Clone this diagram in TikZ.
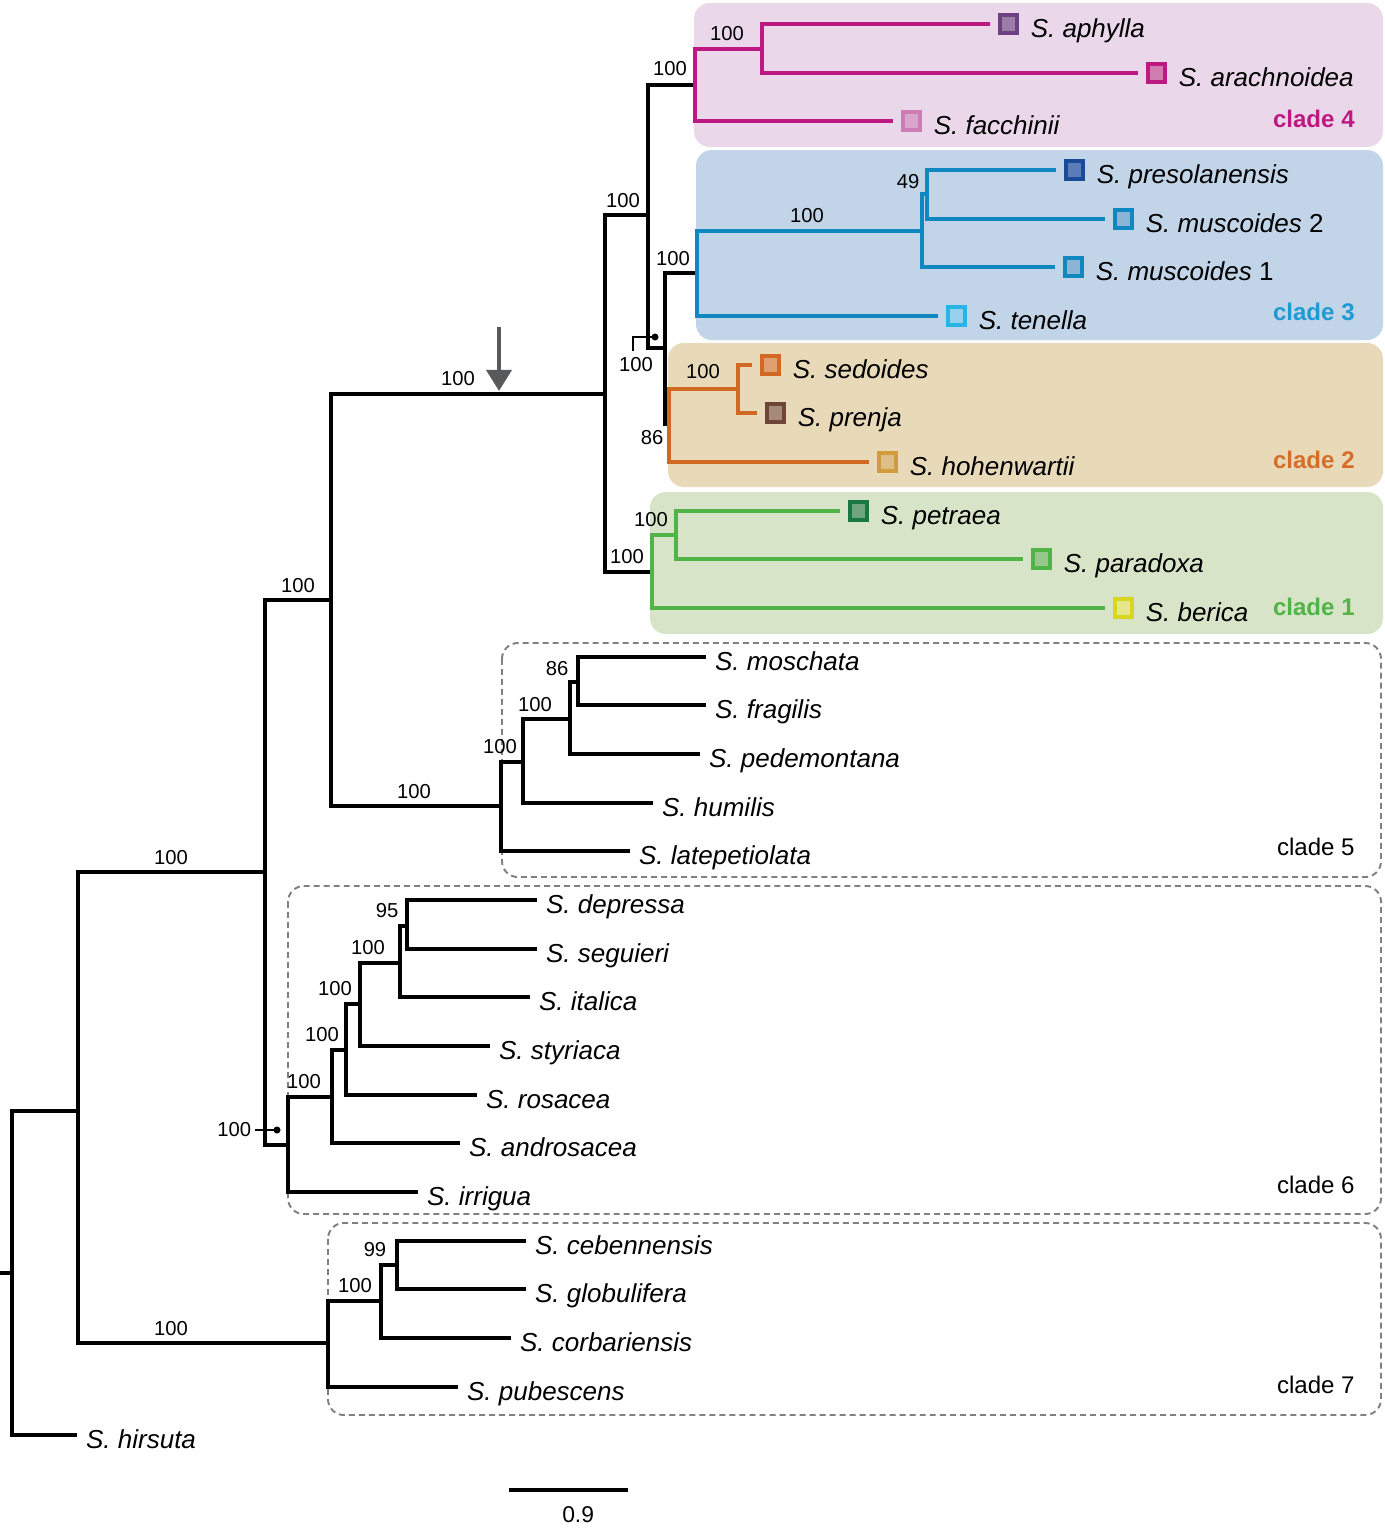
\documentclass[tikz,border=0pt]{standalone}
\usepackage{fontspec}
\setmainfont{Liberation Sans}
\usepackage{xcolor}
\usetikzlibrary{calc}
\usetikzlibrary{positioning,arrows.meta}

\definecolor{cfour}{RGB}{190,25,130}
\definecolor{cfourbg}{RGB}{234,216,234}
\definecolor{cthree}{RGB}{16,135,190}
\definecolor{cthreebg}{RGB}{194,212,232}
\definecolor{cthreelab}{RGB}{30,155,210}
\definecolor{ctwo}{RGB}{210,105,35}
\definecolor{ctwobg}{RGB}{232,217,185}
\definecolor{ctwolab}{RGB}{214,110,40}
\definecolor{cone}{RGB}{80,180,70}
\definecolor{conebg}{RGB}{216,228,200}
\definecolor{arrgrey}{RGB}{88,89,91}
\definecolor{boxgrey}{RGB}{128,128,128}
% square colours
\definecolor{aphyllaD}{RGB}{110,65,130}
\definecolor{aphyllaF}{RGB}{155,125,168}
\definecolor{arachF}{RGB}{207,125,175}
\definecolor{facchD}{RGB}{205,125,180}
\definecolor{facchF}{RGB}{218,165,205}
\definecolor{presolD}{RGB}{25,75,150}
\definecolor{presolF}{RGB}{90,125,185}
\definecolor{muscF}{RGB}{140,180,215}
\definecolor{tenellaD}{RGB}{40,180,230}
\definecolor{tenellaF}{RGB}{150,210,238}
\definecolor{sedoF}{RGB}{222,160,115}
\definecolor{prenjaD}{RGB}{110,70,55}
\definecolor{prenjaF}{RGB}{165,138,122}
\definecolor{hohenD}{RGB}{210,155,60}
\definecolor{hohenF}{RGB}{222,190,135}
\definecolor{petraeaD}{RGB}{25,120,65}
\definecolor{petraeaF}{RGB}{110,165,125}
\definecolor{paradoxaF}{RGB}{150,200,140}
\definecolor{bericaD}{RGB}{215,215,30}
\definecolor{bericaF}{RGB}{230,230,140}

\tikzset{
  br/.style={line width=1.8pt, line join=miter},
  cbr/.style={line width=2.3pt, line join=miter},
  boot/.style={inner sep=0pt, font=\fontsize{11.5}{13}\selectfont},
  leaf/.style={inner sep=0pt, anchor=base west, yshift=-7.4pt, font=\fontsize{14.8}{17}\selectfont\itshape},
  sq/.style 2 args={draw=#1, fill=#2, line width=2.2pt, minimum size=10pt, inner sep=0pt},
  cladebg/.style={fill=#1, rounded corners=9pt},
  cladebox/.style={draw=boxgrey, dash pattern=on 3.4pt off 2.3pt, line width=1.1pt, rounded corners=9pt},
  cladelab/.style={inner sep=0pt, anchor=base east, font=\fontsize{13.7}{16}\selectfont},
  callout/.style={line width=0.7pt},
  pointer/.style={line width=2.8pt, draw=arrgrey, -{Triangle[width=14pt,length=12pt]}},
}

\begin{document}
\begin{tikzpicture}[x=0.02cm, y=-0.02cm]
\useasboundingbox (0,0) rectangle (1384,1529);

%CLADE BACKGROUNDS
\fill[cladebg=cfourbg] (694,3) rectangle (1383,147);
\fill[cladebg=cthreebg] (696,150) rectangle (1383,340);
\fill[cladebg=ctwobg] (668,343) rectangle (1383,487);
\fill[cladebg=conebg] (650,492) rectangle (1383,634);
\draw[cladebox] (502,643) rectangle (1381,877);
\draw[cladebox] (288,886) rectangle (1381,1214);
\draw[cladebox] (328,1223) rectangle (1381,1415);

%INTERNAL NODES
\coordinate (rootin) at (0,1273);
\coordinate (r) at (12,1273);
\coordinate (nA) at (78,1111);
\coordinate (nB) at (265,872);
\coordinate (nC) at (331,600);
\coordinate (nD) at (605,394);
\coordinate (nE) at (648,215);
\coordinate (nF) at (665,348);
\coordinate (c4) at (695,85);
\coordinate (c4a) at (762,49);
\coordinate (c3) at (697,273);
\coordinate (c3a) at (922,231);
\coordinate (c3b) at (927,194);
\coordinate (c2) at (669,424);
\coordinate (c2a) at (738,389);
\coordinate (c1) at (652,572);
\coordinate (c1a) at (676,535);
\coordinate (c5) at (501,806);
\coordinate (c5a) at (523,762);
\coordinate (c5b) at (570,719);
\coordinate (c5c) at (578,682);
\coordinate (c6) at (288,1145);
\coordinate (c6a) at (332,1097);
\coordinate (c6b) at (346,1050);
\coordinate (c6c) at (360,1004);
\coordinate (c6d) at (400,963);
\coordinate (c6e) at (407,926);
\coordinate (c7) at (328,1343);
\coordinate (c7a) at (381,1301);
\coordinate (c7b) at (397,1265);

%TIPS
\coordinate (aphyllaT) at (990,24);
\coordinate (arachT) at (1138,73);
\coordinate (facchT) at (893,121);
\coordinate (presolT) at (1056,170);
\coordinate (muscbT) at (1105,219);
\coordinate (muscaT) at (1055,267);
\coordinate (tenellaT) at (938,316);
\coordinate (sedoT) at (752,365);
\coordinate (prenjaT) at (757,413);
\coordinate (hohenT) at (869,462);
\coordinate (petraeaT) at (840,511);
\coordinate (paradoxaT) at (1023,559);
\coordinate (bericaT) at (1105,608);
\coordinate (moschataT) at (706,657);
\coordinate (fragilisT) at (706,705);
\coordinate (pedemT) at (700,754);
\coordinate (humilisT) at (653,803);
\coordinate (latepT) at (630,851);
\coordinate (depressaT) at (537,900);
\coordinate (seguieriT) at (537,949);
\coordinate (italicaT) at (530,997);
\coordinate (styriacaT) at (490,1046);
\coordinate (rosaceaT) at (477,1095);
\coordinate (androsT) at (460,1143);
\coordinate (irriguaT) at (418,1192);
\coordinate (cebennT) at (526,1241);
\coordinate (globuT) at (526,1289);
\coordinate (corbarT) at (511,1338);
\coordinate (pubescT) at (458,1387);
\coordinate (hirsutaT) at (77,1435);

%BLACK BACKBONE
\draw[br] (rootin) -- (r);
\draw[br] (r) |- (hirsutaT);
\draw[br] (r) |- (nA);
\draw[br] (nA) |- (nB);
\draw[br] (nA) |- (c7);
\draw[br] (nB) |- (nC);
\draw[br] (nB) |- (c6);
\draw[br] (nC) |- (nD);
\draw[br] (nC) |- (c5);
\draw[br] (nD) |- (nE);
\draw[br] (nD) |- (c1);
\draw[br] (nE) |- (c4);
\draw[br] (nE) |- (nF);
\draw[br] (nF) |- (c3);
\draw[br] (nF) |- (c2);

%CLADE 4
\draw[cbr, cfour] (c4) |- (c4a);
\draw[cbr, cfour] (c4) |- (facchT);
\draw[cbr, cfour] (c4a) |- (aphyllaT);
\draw[cbr, cfour] (c4a) |- (arachT);
%CLADE 3
\draw[cbr, cthree] (c3) |- (c3a);
\draw[cbr, cthree] (c3) |- (tenellaT);
\draw[cbr, cthree] (c3a) |- (c3b);
\draw[cbr, cthree] (c3a) |- (muscaT);
\draw[cbr, cthree] (c3b) |- (presolT);
\draw[cbr, cthree] (c3b) |- (muscbT);
%CLADE 2
\draw[cbr, ctwo] (c2) |- (c2a);
\draw[cbr, ctwo] (c2) |- (hohenT);
\draw[cbr, ctwo] (c2a) |- (sedoT);
\draw[cbr, ctwo] (c2a) |- (prenjaT);
%CLADE 1
\draw[cbr, cone] (c1) |- (c1a);
\draw[cbr, cone] (c1) |- (bericaT);
\draw[cbr, cone] (c1a) |- (petraeaT);
\draw[cbr, cone] (c1a) |- (paradoxaT);
%CLADE 5
\draw[br] (c5) |- (c5a);
\draw[br] (c5) |- (latepT);
\draw[br] (c5a) |- (c5b);
\draw[br] (c5a) |- (humilisT);
\draw[br] (c5b) |- (c5c);
\draw[br] (c5b) |- (pedemT);
\draw[br] (c5c) |- (moschataT);
\draw[br] (c5c) |- (fragilisT);
%CLADE 6
\draw[br] (c6) |- (c6a);
\draw[br] (c6) |- (irriguaT);
\draw[br] (c6a) |- (c6b);
\draw[br] (c6a) |- (androsT);
\draw[br] (c6b) |- (c6c);
\draw[br] (c6b) |- (rosaceaT);
\draw[br] (c6c) |- (c6d);
\draw[br] (c6c) |- (styriacaT);
\draw[br] (c6d) |- (c6e);
\draw[br] (c6d) |- (italicaT);
\draw[br] (c6e) |- (depressaT);
\draw[br] (c6e) |- (seguieriT);
%CLADE 7
\draw[br] (c7) |- (c7a);
\draw[br] (c7) |- (pubescT);
\draw[br] (c7a) |- (c7b);
\draw[br] (c7a) |- (corbarT);
\draw[br] (c7b) |- (cebennT);
\draw[br] (c7b) |- (globuT);

%SQUARES
\node[sq={aphyllaD}{aphyllaF}, right=4.5pt of aphyllaT] (aphyllaS) {};
\node[sq={cfour}{arachF}, right=4.5pt of arachT] (arachS) {};
\node[sq={facchD}{facchF}, right=4.5pt of facchT] (facchS) {};
\node[sq={presolD}{presolF}, right=4.5pt of presolT] (presolS) {};
\node[sq={cthree}{muscF}, right=4.5pt of muscbT] (muscbS) {};
\node[sq={cthree}{muscF}, right=4.5pt of muscaT] (muscaS) {};
\node[sq={tenellaD}{tenellaF}, right=4.5pt of tenellaT] (tenellaS) {};
\node[sq={ctwo}{sedoF}, right=4.5pt of sedoT] (sedoS) {};
\node[sq={prenjaD}{prenjaF}, right=4.5pt of prenjaT] (prenjaS) {};
\node[sq={hohenD}{hohenF}, right=4.5pt of hohenT] (hohenS) {};
\node[sq={petraeaD}{petraeaF}, right=4.5pt of petraeaT] (petraeaS) {};
\node[sq={cone}{paradoxaF}, right=4.5pt of paradoxaT] (paradoxaS) {};
\node[sq={bericaD}{bericaF}, right=4.5pt of bericaT] (bericaS) {};

%SPECIES LABELS
\node[right=6.3pt of aphyllaS, leaf] (aphyllaL) {S. aphylla};
\node[right=6.3pt of arachS, leaf] (arachL) {S. arachnoidea};
\node[right=6.3pt of facchS, leaf] (facchL) {S. facchinii};
\node[right=6.3pt of presolS, leaf] (presolL) {S. presolanensis};
\node[right=6.3pt of muscbS, leaf] (muscbL) {S. muscoides \upshape 2};
\node[right=6.3pt of muscaS, leaf] (muscaL) {S. muscoides \upshape 1};
\node[right=6.3pt of tenellaS, leaf] (tenellaL) {S. tenella};
\node[right=6.3pt of sedoS, leaf] (sedoL) {S. sedoides};
\node[right=6.3pt of prenjaS, leaf] (prenjaL) {S. prenja};
\node[right=6.3pt of hohenS, leaf] (hohenL) {S. hohenwartii};
\node[right=6.3pt of petraeaS, leaf] (petraeaL) {S. petraea};
\node[right=6.3pt of paradoxaS, leaf] (paradoxaL) {S. paradoxa};
\node[right=6.3pt of bericaS, leaf] (bericaL) {S. berica};
\node[right=5pt of moschataT, leaf] (moschataL) {S. moschata};
\node[right=5pt of fragilisT, leaf] (fragilisL) {S. fragilis};
\node[right=5pt of pedemT, leaf] (pedemL) {S. pedemontana};
\node[right=5pt of humilisT, leaf] (humilisL) {S. humilis};
\node[right=5pt of latepT, leaf] (latepL) {S. latepetiolata};
\node[right=5pt of depressaT, leaf] (depressaL) {S. depressa};
\node[right=5pt of seguieriT, leaf] (seguieriL) {S. seguieri};
\node[right=5pt of italicaT, leaf] (italicaL) {S. italica};
\node[right=5pt of styriacaT, leaf] (styriacaL) {S. styriaca};
\node[right=5pt of rosaceaT, leaf] (rosaceaL) {S. rosacea};
\node[right=5pt of androsT, leaf] (androsL) {S. androsacea};
\node[right=5pt of irriguaT, leaf] (irriguaL) {S. irrigua};
\node[right=5pt of cebennT, leaf] (cebennL) {S. cebennensis};
\node[right=5pt of globuT, leaf] (globuL) {S. globulifera};
\node[right=5pt of corbarT, leaf] (corbarL) {S. corbariensis};
\node[right=5pt of pubescT, leaf] (pubescL) {S. pubescens};
\node[right=5pt of hirsutaT, leaf] (hirsutaL) {S. hirsuta};

%CLADE LABELS
\node[cladelab, cfour] (lab4) at (1355,127) {\bfseries clade 4};
\node[cladelab, cthreelab] (lab3) at (1355,320) {\bfseries clade 3};
\node[cladelab, ctwolab] (lab2) at (1355,468) {\bfseries clade 2};
\node[cladelab, cone] (lab1) at (1355,615) {\bfseries clade 1};
\node[cladelab] (lab5) at (1355,855) {clade 5};
\node[cladelab] (lab6) at (1355,1193) {clade 6};
\node[cladelab] (lab7) at (1355,1393) {clade 7};

%BOOTSTRAP VALUES
\node[boot] (bs1) at (727,34) {100};
\node[boot] (bs2) at (670,69) {100};
\node[boot] (bs3) at (623,201) {100};
\node[boot] (bs4) at (908,182) {49};
\node[boot] (bs5) at (807,216) {100};
\node[boot] (bs6) at (673,259) {100};
\node[boot] (bs7) at (703,372) {100};
\node[boot] (bs8) at (652,438) {86};
\node[boot] (bs9) at (651,520) {100};
\node[boot] (bs10) at (627,557) {100};
\node[boot] (bs11) at (458,379) {100};
\node[boot] (bs12) at (557,669) {86};
\node[boot] (bs13) at (535,705) {100};
\node[boot] (bs14) at (500,747) {100};
\node[boot] (bs15) at (414,792) {100};
\node[boot] (bs16) at (298,586) {100};
\node[boot] (bs17) at (387,911) {95};
\node[boot] (bs18) at (368,948) {100};
\node[boot] (bs19) at (335,989) {100};
\node[boot] (bs20) at (322,1035) {100};
\node[boot] (bs21) at (304,1082) {100};
\node[boot] (bs22) at (171,858) {100};
\node[boot] (bs23) at (375,1250) {99};
\node[boot] (bs24) at (355,1286) {100};
\node[boot] (bs25) at (171,1329) {100};

%CALLOUTS
\coordinate (dotA) at (655,337);
\coordinate (callA) at (633,351);
\draw[callout] (dotA) -| (callA);
\fill (dotA) circle (2pt);
\node[boot] (bsA) at (636,365) {100};
\coordinate (dotB) at (277,1130);
\coordinate (callB) at (255,1130);
\draw[callout] (dotB) -- (callB);
\fill (dotB) circle (2pt);
\node[boot, left=2pt of callB] (bsB) {100};

%ARROW
\coordinate (arrtop) at (499,327);
\coordinate (arrtip) at (499,391);
\draw[pointer] (arrtop) -- (arrtip);

%SCALE BAR
\coordinate (sbarL) at (509,1490);
\coordinate (sbarR) at (628,1490);
\draw[br] (sbarL) -- (sbarR) node[midway, below=8.5pt, xshift=5.5pt, inner sep=0pt, font=\fontsize{13}{15}\selectfont] (sbarlab) {0.9};
\end{tikzpicture}
\end{document}
